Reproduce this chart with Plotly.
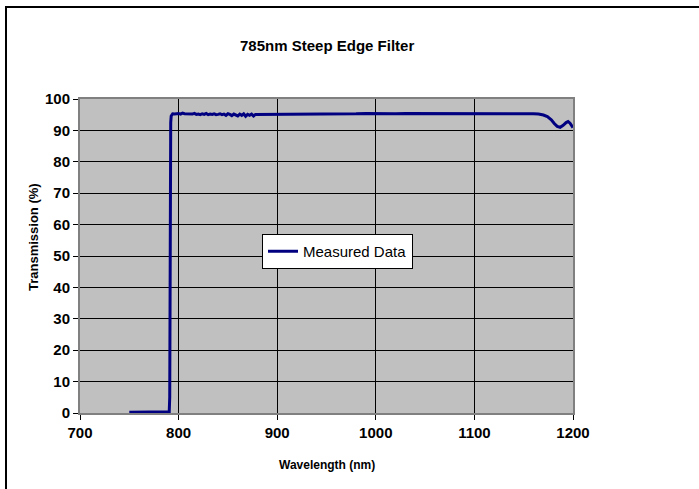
import plotly.graph_objects as go

wavelength = [750, 760, 770, 780, 786, 789, 790.5, 791, 791.3, 791.6, 792, 792.5, 793, 794,
              796, 798, 800, 802, 804, 806, 808, 810, 812, 814, 816, 818, 820,
              822, 824, 826, 828, 830, 832, 834, 836, 838, 840, 842, 844, 846,
              848, 850, 852, 854, 856, 858, 860, 862, 864, 866, 868, 870, 872,
              874, 876, 878, 880, 885, 890, 895, 900, 910, 920, 930, 940, 950,
              960, 970, 980, 990, 1000, 1010, 1020, 1030, 1040, 1050, 1060, 1070,
              1080, 1090, 1100, 1110, 1120, 1130, 1140, 1150, 1160, 1165, 1170,
              1174, 1178, 1181, 1184, 1187, 1190, 1193, 1195, 1197, 1200]
transmission = [0.2, 0.2, 0.2, 0.2, 0.2, 0.2, 0.4, 5.0, 40.0, 80.0, 92.5, 94.6, 95.1, 95.3,
                95.2, 95.4, 95.4, 95.2, 95.5, 95.3, 95.3, 95.1, 95.3, 95.2, 95.4, 95.1,
                95.2, 95.0, 95.3, 95.1, 95.4, 95.0, 95.2, 95.1, 95.3, 95.0, 95.1, 95.3,
                95.0, 95.2, 94.8, 95.3, 95.1, 94.7, 95.2, 95.0, 94.6, 95.2, 94.8, 95.3,
                94.5, 95.1, 94.8, 95.2, 94.6, 95.1, 95.1, 95.2, 95.1, 95.2, 95.2, 95.2,
                95.1, 95.2, 95.3, 95.2, 95.3, 95.3, 95.3, 95.4, 95.3, 95.4, 95.3, 95.4,
                95.4, 95.4, 95.4, 95.3, 95.4, 95.4, 95.3, 95.4, 95.4, 95.5, 95.4, 95.4,
                95.3, 95.2, 94.9, 94.4, 93.4, 92.2, 91.3, 91.0, 91.6, 92.5, 92.8, 92.3, 90.9]

x_ticks = [700, 800, 900, 1000, 1100, 1200]
y_ticks = [0, 10, 20, 30, 40, 50, 60, 70, 80, 90, 100]

font_family = "Arial, Liberation Sans, sans-serif"

# plot-area geometry in page pixels
L, R, T, B = 80, 573, 99, 413
W, H = 699, 489
pw, ph = R - L, B - T

fig = go.Figure()
fig.add_trace(go.Scatter(
    x=wavelength, y=transmission, mode="lines", name="Measured Data",
    line=dict(color="#000080", width=3),
))

fig.update_layout(
    width=W, height=H,
    margin=dict(l=L, r=W - R, t=T, b=H - B, pad=0),
    paper_bgcolor="white",
    plot_bgcolor="#C0C0C0",
    font=dict(family=font_family, color="black"),
    showlegend=True,
    legend=dict(x=(262 - L) / pw, y=(B - 234) / ph, xanchor="left", yanchor="top",
                bgcolor="white", bordercolor="black", borderwidth=1,
                font=dict(size=15, family=font_family, color="black"),
                itemwidth=30, tracegroupgap=0),
    xaxis=dict(range=[700, 1200], tickvals=x_ticks,
               ticktext=[f"<b>{v}</b>" for v in x_ticks],
               showgrid=True, gridcolor="black", gridwidth=1, zeroline=False,
               showline=True, linecolor="#808080", linewidth=2, mirror=True,
               ticks="outside", ticklen=5, tickcolor="black",
               tickfont=dict(size=15, family=font_family, color="black")),
    yaxis=dict(range=[0, 100], tickvals=y_ticks,
               ticktext=[f"<b>{v}</b>" for v in y_ticks],
               showgrid=True, gridcolor="black", gridwidth=1, zeroline=False,
               showline=True, linecolor="#808080", linewidth=2, mirror=True,
               ticks="outside", ticklen=5, tickcolor="black",
               tickfont=dict(size=15, family=font_family, color="black")),
    annotations=[
        dict(text="<b>785nm Steep Edge Filter</b>", xref="paper", yref="paper",
             x=(327 - L) / pw, y=(B - 45) / ph, xanchor="center", yanchor="middle",
             showarrow=False, font=dict(size=15, family=font_family, color="black")),
        dict(text="<b>Wavelength (nm)</b>", xref="paper", yref="paper",
             x=(327 - L) / pw, y=(B - 465) / ph, xanchor="center", yanchor="middle",
             showarrow=False, font=dict(size=12, family=font_family, color="black")),
        dict(text="<b>Transmission (%)</b>", xref="paper", yref="paper",
             x=(33 - L) / pw, y=(B - 237) / ph, xanchor="center", yanchor="middle",
             textangle=-90, showarrow=False,
             font=dict(size=13, family=font_family, color="black")),
    ],
)

# outer chart border (extends beyond the visible page at right/bottom)
fig.add_shape(type="rect", xref="paper", yref="paper",
              x0=(6 - L) / pw, x1=1.5, y0=-0.5, y1=(B - 7) / ph,
              line=dict(color="black", width=2), fillcolor="rgba(0,0,0,0)", layer="below")

fig.write_html("out.html", config={"displayModeBar": False},
               post_script="document.body.style.margin='0';")
